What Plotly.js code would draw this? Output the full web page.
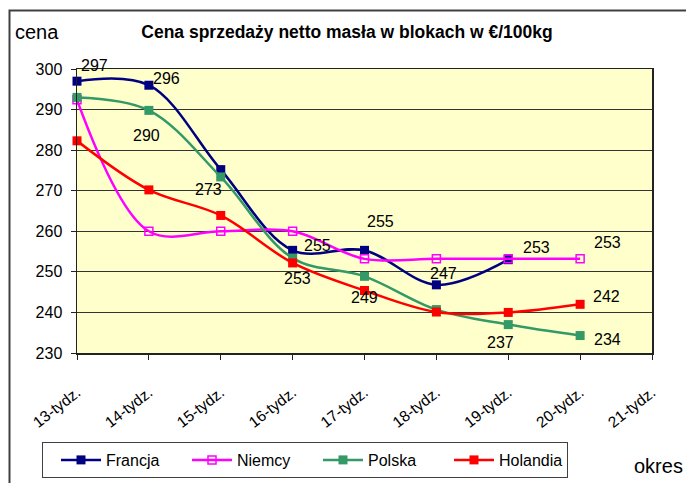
<!DOCTYPE html>
<html>
<head>
<meta charset="utf-8">
<script src="https://cdn.plot.ly/plotly-3.0.1.min.js"></script>
<style>
html,body{margin:0;padding:0;background:#fff;}
#chart{width:686px;height:483px;}
</style>
</head>
<body>
<div id="chart"></div>
<script>
// ---- data ----
var categories = ["13-tydz.", "14-tydz.", "15-tydz.", "16-tydz.", "17-tydz.", "18-tydz.", "19-tydz.", "20-tydz.", "21-tydz."];
var seriesNames = ["Francja", "Niemcy", "Polska", "Holandia"];
var francja  = [297, 296, 275.2, 255.3, 255.3, 246.8, 253];
var niemcy   = [292.4, 260, 260, 260, 253.2, 253.2, 253.2, 253.2];
var polska   = [293, 289.8, 273.4, 253.4, 248.9, 240.7, 237, 234.3];
var holandia = [282.3, 270.2, 263.9, 252.2, 245.4, 240.1, 240, 242];
var yTicks = [230, 240, 250, 260, 270, 280, 290, 300];
var titleText = "Cena sprzedaży netto masła w blokach w €/100kg";
var yLabel = "cena";
var xLabel = "okres";

// which points carry a value label (series index, point index)
var labelPoints = [
  [0,0],[0,1],[0,3],[0,4],[0,5],[0,6],
  [2,1],[2,2],[2,3],[2,4],[2,6],[2,7],
  [1,7],[3,7]
];
// ---- styling / placement (pixels) ----
var labelOffsets = [
  [17,-16],[18,-7],[25,-5],[16,-29],[7,-11],[28,-12],
  [-2,25],[-12,13],[5,20],[0,21],[-8,18],[27,4],
  [27,-16],[26,-8]
];
var colors = ["#000080", "#FF00FF", "#339966", "#FF0000"];
var symbols = ["square", "square-open", "square", "square"];
var FONT = "Liberation Sans, Arial, sans-serif";

var allSeries = [francja, niemcy, polska, holandia];
var xIdx = categories.map(function(c, i){ return i; });

var traces = allSeries.map(function(vals, s){
  return {
    type: "scatter",
    mode: "lines+markers",
    name: seriesNames[s],
    x: vals.map(function(v, i){ return xIdx[i]; }),
    y: vals,
    line: {color: colors[s], width: 2.5, shape: "spline", smoothing: 1},
    marker: {color: colors[s], symbol: symbols[s], size: s === 1 ? 8 : 9,
             line: {color: colors[s], width: s === 1 ? 1.5 : 0}},
    cliponaxis: false
  };
});

var annotations = labelPoints.map(function(p, k){
  var v = allSeries[p[0]][p[1]];
  return {
    xref: "x", yref: "y", x: xIdx[p[1]], y: v,
    text: String(Math.round(v)), showarrow: false,
    xanchor: "center", yanchor: "middle",
    xshift: labelOffsets[k][0], yshift: -labelOffsets[k][1],
    font: {family: FONT, size: 16, color: "#000"}
  };
});

// plot geometry: left 77, right 652, top 69, bottom 353
var L = 77, R = 34, T = 69, B = 130, W = 686, H = 483;
var pw = W - L - R, ph = H - T - B;
function px2x(px){ return (px - L) / pw; }
function py2y(py){ return (H - B - py) / ph; }

annotations.push({
  xref: "paper", yref: "paper", x: px2x(13), y: py2y(32),
  xanchor: "left", yanchor: "middle", showarrow: false,
  text: yLabel, font: {family: FONT, size: 20, color: "#000"}
});
annotations.push({
  xref: "paper", yref: "paper", x: px2x(632), y: py2y(466),
  xanchor: "left", yanchor: "middle", showarrow: false,
  text: xLabel, font: {family: FONT, size: 20, color: "#000"}
});

var layout = {
  width: W, height: H,
  margin: {l: L, r: R, t: T, b: B, pad: 0, autoexpand: false},
  paper_bgcolor: "#FFFFFF",
  plot_bgcolor: "#FFFFCC",
  font: {family: FONT, size: 16, color: "#000"},
  title: {
    text: "<b>" + titleText + "</b>",
    xref: "paper", x: px2x(347), xanchor: "center",
    yref: "container", y: 1 - 32 / H, yanchor: "middle",
    font: {family: FONT, size: 17.5, color: "#000"}
  },
  showlegend: true,
  legend: {
    orientation: "h",
    x: px2x(42), xanchor: "left",
    y: py2y(442), yanchor: "top",
    bgcolor: "#FFFFFF", bordercolor: "#404040", borderwidth: 1,
    font: {family: FONT, size: 16, color: "#000"},
    itemwidth: 40,
    indentation: 13,
    entrywidth: 63, entrywidthmode: "pixels",
    traceorder: "normal"
  },
  xaxis: {
    range: [0, categories.length - 1],
    tickmode: "array", tickvals: xIdx, ticktext: categories,
    tickangle: -38,
    ticks: "outside", ticklen: 5, tickcolor: "#222", tickwidth: 1,
    showline: true, linecolor: "#222", linewidth: 1.5, mirror: true,
    showgrid: false, zeroline: false, automargin: false,
    ticklabelstandoff: 18,
    tickfont: {family: FONT, size: 15.5, color: "#000"},
    fixedrange: true
  },
  yaxis: {
    range: [yTicks[0], yTicks[yTicks.length - 1]],
    tickmode: "array", tickvals: yTicks,
    ticks: "outside", ticklen: 5, tickcolor: "#222", tickwidth: 1,
    showline: true, linecolor: "#222", linewidth: 1.5, mirror: true,
    showgrid: true, gridcolor: "#333", gridwidth: 1,
    zeroline: false, automargin: false,
    ticklabelstandoff: 5,
    tickfont: {family: FONT, size: 16, color: "#000"},
    fixedrange: true
  },
  shapes: [{
    type: "rect", xref: "paper", yref: "paper",
    x0: px2x(9.5), x1: px2x(700), y0: py2y(500), y1: py2y(10.5),
    line: {color: "#404040", width: 2}, fillcolor: "rgba(0,0,0,0)",
    layer: "above"
  }],
  annotations: annotations
};

Plotly.newPlot("chart", traces, layout, {displayModeBar: false, staticPlot: true});
</script>
</body>
</html>
